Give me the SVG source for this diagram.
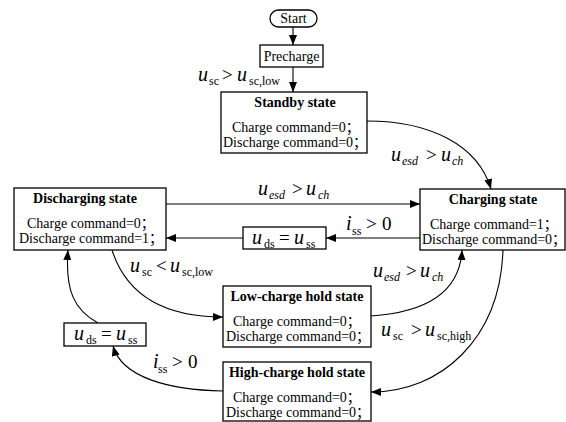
<svg xmlns="http://www.w3.org/2000/svg" width="566" height="422" viewBox="0 0 566 422">
<defs>
<style>
.bx{fill:#fff;stroke:#000;stroke-width:1.3}
.ln{fill:none;stroke:#000;stroke-width:1.1}
text{font-family:"Liberation Serif","Noto Sans CJK SC",serif;fill:#000}
.t{font-size:14px;font-weight:bold;text-anchor:middle}
.b{font-size:14px}
.p{font-size:14px;text-anchor:middle}
.m{font-size:20px;font-style:italic}
.r{font-size:19px;font-style:normal}
.s{font-size:12px;font-style:normal}
.si{font-size:12px;font-style:italic}
</style>
<marker id="ah" markerUnits="userSpaceOnUse" markerWidth="10" markerHeight="8" refX="10" refY="4" orient="auto">
<path d="M0,0 L10,4 L0,8 z" fill="#000"/>
</marker>
</defs>

<g id="connectors">
<path class="ln" d="M293,27 L293,45" marker-end="url(#ah)"/>
<path class="ln" d="M293,67 L293,92" marker-end="url(#ah)"/>
<path class="ln" d="M367,121 C430,121 478,145 491,189" marker-end="url(#ah)"/>
<path class="ln" d="M166,204 L420,204" marker-end="url(#ah)"/>
<path class="ln" d="M420,238 L326,238" marker-end="url(#ah)"/>
<path class="ln" d="M243,238 L166,238" marker-end="url(#ah)"/>
<path class="ln" d="M112,250 C128,300 170,317 223,317" marker-end="url(#ah)"/>
<path class="ln" d="M371,316 C430,312 460,290 462,250" marker-end="url(#ah)"/>
<path class="ln" d="M503,250 C500,340 440,392 371,392" marker-end="url(#ah)"/>
<path class="ln" d="M98,323 C74,310 65,290 68,250" marker-end="url(#ah)"/>
<path class="ln" d="M223,391 C170,390 122,378 113,346" marker-end="url(#ah)"/>
</g>

<g id="start">
<rect class="bx" x="270" y="10" width="47" height="17" rx="8.5"/>
<text class="p" x="293.5" y="23">Start</text>
</g>

<g id="precharge">
<rect class="bx" x="260" y="45" width="63" height="22"/>
<text class="p" x="291.5" y="61">Precharge</text>
</g>

<g id="standby">
<rect class="bx" x="221" y="92" width="146" height="61"/>
<text class="t" x="295" y="107">Standby state</text>
<text class="b" x="232" y="132">Charge command=0；</text>
<text class="b" x="223" y="147">Discharge command=0；</text>
</g>

<g id="discharging">
<rect class="bx" x="14" y="188" width="152" height="62"/>
<text class="t" x="85" y="203">Discharging state</text>
<text class="b" x="27" y="228">Charge command=0；</text>
<text class="b" x="19" y="243">Discharge command=1；</text>
</g>

<g id="charging">
<rect class="bx" x="420" y="189" width="145" height="61"/>
<text class="t" x="493" y="204">Charging state</text>
<text class="b" x="430" y="229">Charge command=1；</text>
<text class="b" x="422" y="244">Discharge command=0；</text>
</g>

<g id="lowhold">
<rect class="bx" x="223" y="286" width="148" height="61"/>
<text class="t" x="297" y="301">Low-charge hold state</text>
<text class="b" x="233" y="326">Charge command=0；</text>
<text class="b" x="226" y="341">Discharge command=0；</text>
</g>

<g id="highhold">
<rect class="bx" x="223" y="362" width="148" height="59"/>
<text class="t" x="297" y="377">High-charge hold state</text>
<text class="b" x="233" y="402">Charge command=0；</text>
<text class="b" x="226" y="417">Discharge command=0；</text>
</g>

<g id="uds-box-1">
<rect class="bx" x="243" y="227" width="83" height="22"/>
<text class="m"><tspan x="252" y="244">u</tspan><tspan class="s" x="264" y="248">ds</tspan><tspan class="r" x="279" y="244">=</tspan><tspan x="294" y="244">u</tspan><tspan class="s" x="306" y="248">ss</tspan></text>
</g>

<g id="uds-box-2">
<rect class="bx" x="64" y="323" width="82" height="23"/>
<text class="m"><tspan x="74" y="340">u</tspan><tspan class="s" x="86" y="344">ds</tspan><tspan class="r" x="101" y="340">=</tspan><tspan x="116" y="340">u</tspan><tspan class="s" x="128" y="344">ss</tspan></text>
</g>

<g id="labels">
<text class="m"><tspan x="198" y="81">u</tspan><tspan class="s" x="209" y="85">sc</tspan><tspan class="r" x="222" y="81">&gt;</tspan><tspan x="237" y="81">u</tspan><tspan class="s" x="249" y="85">sc,low</tspan></text>
<text class="m"><tspan x="391" y="161">u</tspan><tspan class="si" x="402" y="165">esd</tspan><tspan class="r" x="426" y="161">&gt;</tspan><tspan x="441" y="161">u</tspan><tspan class="si" x="452" y="165">ch</tspan></text>
<text class="m"><tspan x="258" y="195">u</tspan><tspan class="si" x="269" y="199">esd</tspan><tspan class="r" x="292" y="195">&gt;</tspan><tspan x="306" y="195">u</tspan><tspan class="si" x="318" y="199">ch</tspan></text>
<text class="m"><tspan x="346" y="230">i</tspan><tspan class="s" x="352" y="235">ss</tspan><tspan class="r" x="366" y="230">&gt;</tspan><tspan class="r" x="382" y="230">0</tspan></text>
<text class="m"><tspan x="130" y="272">u</tspan><tspan class="s" x="142" y="276">sc</tspan><tspan class="r" x="156" y="272">&lt;</tspan><tspan x="170" y="272">u</tspan><tspan class="s" x="182" y="276">sc,low</tspan></text>
<text class="m"><tspan x="373" y="277">u</tspan><tspan class="si" x="384" y="281">esd</tspan><tspan class="r" x="406" y="277">&gt;</tspan><tspan x="420" y="277">u</tspan><tspan class="si" x="432" y="281">ch</tspan></text>
<text class="m"><tspan x="381" y="336">u</tspan><tspan class="s" x="393" y="340">sc</tspan><tspan class="r" x="411" y="336">&gt;</tspan><tspan x="425" y="336">u</tspan><tspan class="s" x="437" y="340">sc,high</tspan></text>
<text class="m"><tspan x="153" y="368">i</tspan><tspan class="s" x="158" y="373">ss</tspan><tspan class="r" x="172" y="368">&gt;</tspan><tspan class="r" x="188" y="368">0</tspan></text>
</g>
</svg>
